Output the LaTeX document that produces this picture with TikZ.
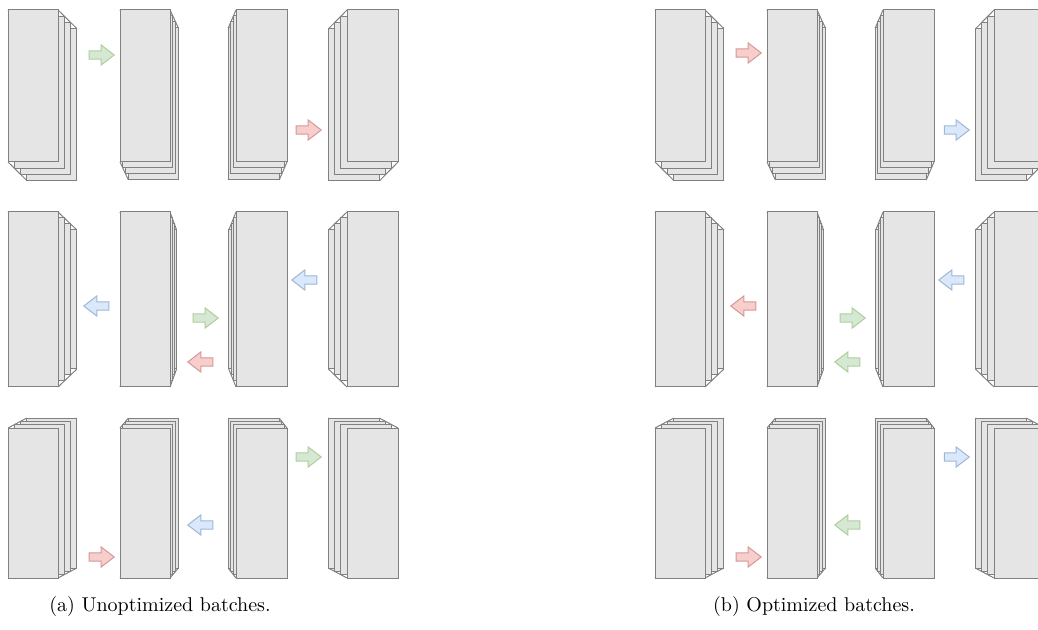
\documentclass[tikz,border=0pt]{standalone}
\usetikzlibrary{shapes.arrows}

\definecolor{grnfill}{HTML}{D5E8D4}
\definecolor{grnline}{HTML}{82B366}
\definecolor{redfill}{HTML}{F8CECC}
\definecolor{redline}{HTML}{B85450}
\definecolor{blufill}{HTML}{DAE8FC}
\definecolor{bluline}{HTML}{6C8EBF}

% one batch: front face at (#1,#2), size #3 x #4,
% per-layer shift (#5,#6) and per-layer vertical shrink #7
\newcommand{\batch}[7]{%
  % depth edges first, the front face hides the one behind it
  \foreach \cx in {0,1}
    \foreach \cy in {0,1}
      \draw[slabedge] ({(#1)+\cx*(#3)},{(#2)+\cy*(#4)})
        -- ++({3*(#5)},{3*(#6)+3*(1-2*\cy)*(#7)});
  % back layers, farthest first
  \foreach \k in {3,2,1}
    \draw[slab] ({(#1)+\k*(#5)},{(#2)+\k*(#6)+\k*(#7)})
      rectangle ({(#1)+(#3)+\k*(#5)},{(#2)+(#4)+\k*(#6)-\k*(#7)});
  % front face
  \draw[slab] (#1,#2) rectangle ({(#1)+(#3)},{(#2)+(#4)});
}

\begin{document}
\begin{tikzpicture}[
  x=0.5pt, y=-0.5pt,
  slab/.style={draw=black!50,fill=black!10,line width=0.5pt},
  slabedge/.style={draw=black!50,line width=0.5pt},
  arr/.style={single arrow,line width=0.5pt,inner xsep=0pt,inner ysep=1.85pt,
    minimum height=12.5pt,single arrow head extend=2.9pt,single arrow tip angle=75},
  pointleft/.style={shape border rotate=180},
  greenarrow/.style={arr,draw=grnline!65,fill=grnfill},
  redarrow/.style={arr,draw=redline!60,fill=redfill},
  bluearrow/.style={arr,draw=bluline!65,fill=blufill}
]
\useasboundingbox (0,0) rectangle (1038,630);
\clip (0,0) rectangle (1038,630);

% ===== BATCHES (same layout in both panels) =====
\foreach \px in {0,647} {
  % top row: layers go down
  \batch{\px+8}{10}{50}{152}{6.3}{6.2}{0}
  \batch{\px+120}{10}{50}{152}{2.8}{6}{0}
  \batch{\px+236}{10}{51}{152}{-2.6}{6}{0}
  \batch{\px+347}{10}{51}{152}{-6.2}{6.3}{0}
  % middle row: layers go sideways and shrink
  \batch{\px+8}{212}{50}{175}{6.3}{0}{6}
  \batch{\px+120}{212}{50}{175}{2.2}{0}{6}
  \batch{\px+236}{212}{51}{175}{-2.4}{0}{6}
  \batch{\px+347}{212}{51}{175}{-6.2}{0}{6}
  % bottom row: layers go up
  \batch{\px+8}{428}{50}{150}{6.2}{-3.3}{0}
  \batch{\px+120}{428}{50}{150}{2.8}{-3.3}{0}
  \batch{\px+236}{428}{51}{150}{-2.6}{-3.3}{0}
  \batch{\px+347}{428}{51}{150}{-6.2}{-3.3}{0}
}

% ===== UNOPTIMIZED (Left) =====
\node[greenarrow] (a-top-1) at (99,55) {};
\node[redarrow] (a-top-3) at (306,130) {};

\node[bluearrow,pointleft] (a-mid-1) at (99,306) {};
\node[greenarrow] (a-mid-2) at (203,318) {};
\node[redarrow,pointleft] (a-mid-2b) at (203,362) {};
\node[bluearrow,pointleft] (a-mid-3) at (307,280) {};

\node[redarrow] (a-bot-1) at (99,557) {};
\node[bluearrow,pointleft] (a-bot-2) at (203,525) {};
\node[greenarrow] (a-bot-3) at (306,457) {};

% ===== OPTIMIZED (Right) =====
\node[redarrow] (b-top-1) at (746,53) {};
\node[bluearrow] (b-top-3) at (954,130) {};

\node[redarrow,pointleft] (b-mid-1) at (746,306) {};
\node[greenarrow] (b-mid-2) at (850,318) {};
\node[greenarrow,pointleft] (b-mid-2b) at (850,362) {};
\node[bluearrow,pointleft] (b-mid-3) at (954,280) {};

\node[redarrow] (b-bot-1) at (746,557) {};
\node[greenarrow,pointleft] (b-bot-2) at (850,525) {};
\node[bluearrow] (b-bot-3) at (954,457) {};

% Captions
\node (cap-a) at (160,606) {(a) Unoptimized batches.};
\node (cap-b) at (814,606) {(b) Optimized batches.};

\end{tikzpicture}
\end{document}
